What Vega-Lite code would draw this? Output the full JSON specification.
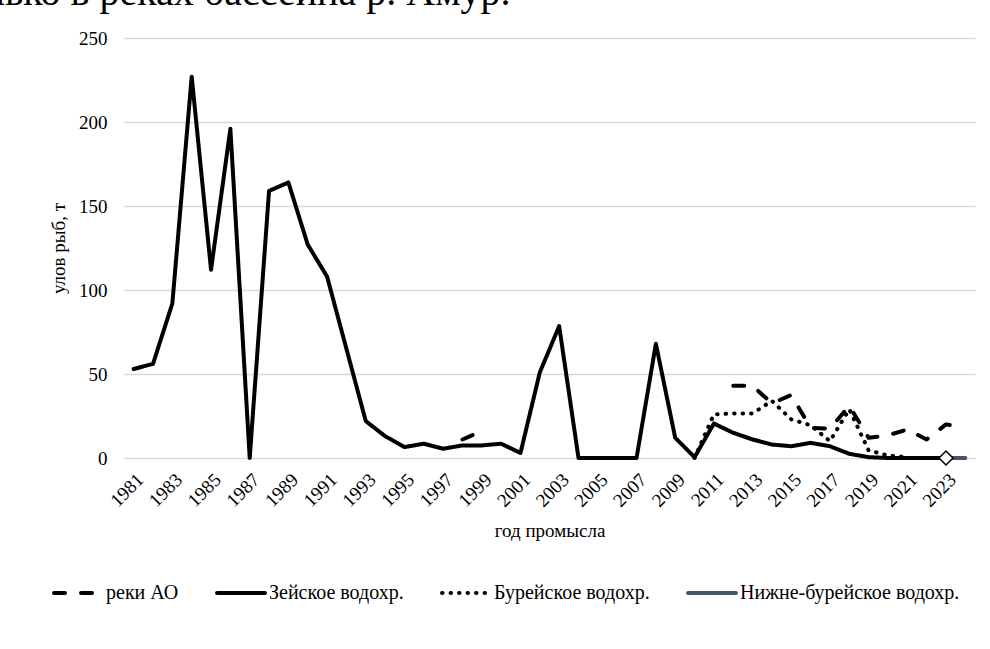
{
  "$schema": "https://vega.github.io/schema/vega-lite/v6.json",
  "width": 851,
  "height": 420,
  "autosize": {"type": "none"},
  "padding": {"left": 124, "top": 38, "right": 15, "bottom": 191},
  "background": "white",
  "title": {
    "text": "лько в реках бассейна р. Амур.",
    "anchor": "start",
    "frame": "group",
    "orient": "top",
    "font": "Liberation Serif, Times New Roman, DejaVu Serif, serif",
    "fontSize": 40,
    "fontWeight": "normal",
    "color": "#000000",
    "baseline": "alphabetic",
    "offset": 10,
    "dx": -139,
    "dy": 26
  },
  "config": {
    "font": "Liberation Serif, Times New Roman, DejaVu Serif, serif",
    "view": {"stroke": null},
    "axis": {
      "labelFont": "Liberation Serif, Times New Roman, DejaVu Serif, serif",
      "labelFontSize": 19,
      "labelColor": "#000000",
      "titleFont": "Liberation Serif, Times New Roman, DejaVu Serif, serif",
      "titleFontSize": 19,
      "titleFontWeight": "normal",
      "titleColor": "#000000",
      "gridColor": "#d9d9d9",
      "gridWidth": 1.3,
      "ticks": false,
      "tickSize": 0,
      "domain": false
    },
    "legend": {
      "labelFont": "Liberation Serif, Times New Roman, DejaVu Serif, serif",
      "labelFontSize": 20,
      "labelColor": "#000000",
      "labelLimit": 400
    }
  },
  "data": {
    "values": [
      {"year": 1981, "series": "Зейское водохр.", "value": 53},
      {"year": 1982, "series": "Зейское водохр.", "value": 56},
      {"year": 1983, "series": "Зейское водохр.", "value": 92},
      {"year": 1984, "series": "Зейское водохр.", "value": 227},
      {"year": 1985, "series": "Зейское водохр.", "value": 112},
      {"year": 1986, "series": "Зейское водохр.", "value": 196},
      {"year": 1987, "series": "Зейское водохр.", "value": 0},
      {"year": 1988, "series": "Зейское водохр.", "value": 159},
      {"year": 1989, "series": "Зейское водохр.", "value": 164},
      {"year": 1990, "series": "Зейское водохр.", "value": 127},
      {"year": 1991, "series": "Зейское водохр.", "value": 108},
      {"year": 1992, "series": "Зейское водохр.", "value": 65},
      {"year": 1993, "series": "Зейское водохр.", "value": 22},
      {"year": 1994, "series": "Зейское водохр.", "value": 13},
      {"year": 1995, "series": "Зейское водохр.", "value": 6.5},
      {"year": 1996, "series": "Зейское водохр.", "value": 8.5},
      {"year": 1997, "series": "Зейское водохр.", "value": 5.5},
      {"year": 1998, "series": "Зейское водохр.", "value": 7.5},
      {"year": 1999, "series": "Зейское водохр.", "value": 7.5},
      {"year": 2000, "series": "Зейское водохр.", "value": 8.5},
      {"year": 2001, "series": "Зейское водохр.", "value": 3},
      {"year": 2002, "series": "Зейское водохр.", "value": 51},
      {"year": 2003, "series": "Зейское водохр.", "value": 78.5},
      {"year": 2004, "series": "Зейское водохр.", "value": 0},
      {"year": 2005, "series": "Зейское водохр.", "value": 0},
      {"year": 2006, "series": "Зейское водохр.", "value": 0},
      {"year": 2007, "series": "Зейское водохр.", "value": 0},
      {"year": 2008, "series": "Зейское водохр.", "value": 68},
      {"year": 2009, "series": "Зейское водохр.", "value": 12},
      {"year": 2010, "series": "Зейское водохр.", "value": 0.5},
      {"year": 2011, "series": "Зейское водохр.", "value": 20.5},
      {"year": 2012, "series": "Зейское водохр.", "value": 15},
      {"year": 2013, "series": "Зейское водохр.", "value": 11},
      {"year": 2014, "series": "Зейское водохр.", "value": 8},
      {"year": 2015, "series": "Зейское водохр.", "value": 7},
      {"year": 2016, "series": "Зейское водохр.", "value": 9},
      {"year": 2017, "series": "Зейское водохр.", "value": 7},
      {"year": 2018, "series": "Зейское водохр.", "value": 2.5},
      {"year": 2019, "series": "Зейское водохр.", "value": 0.5},
      {"year": 2020, "series": "Зейское водохр.", "value": 0},
      {"year": 2021, "series": "Зейское водохр.", "value": 0},
      {"year": 2022, "series": "Зейское водохр.", "value": 0},
      {"year": 2023, "series": "Зейское водохр.", "value": 0},
      {"year": 1998, "series": "реки АО", "value": 11},
      {"year": 1999, "series": "реки АО", "value": 16},
      {"year": 2000, "series": "реки АО", "value": null},
      {"year": 2011, "series": "реки АО", "value": null},
      {"year": 2012, "series": "реки АО", "value": 43},
      {"year": 2013, "series": "реки АО", "value": 43},
      {"year": 2014, "series": "реки АО", "value": 32.5},
      {"year": 2015, "series": "реки АО", "value": 37.5},
      {"year": 2016, "series": "реки АО", "value": 18},
      {"year": 2017, "series": "реки АО", "value": 17.5},
      {"year": 2018, "series": "реки АО", "value": 31},
      {"year": 2019, "series": "реки АО", "value": 12},
      {"year": 2020, "series": "реки АО", "value": 13.5},
      {"year": 2021, "series": "реки АО", "value": 17},
      {"year": 2022, "series": "реки АО", "value": 11},
      {"year": 2023, "series": "реки АО", "value": 20},
      {"year": 2024, "series": "реки АО", "value": 18},
      {"year": 2010, "series": "Бурейское водохр.", "value": 0},
      {"year": 2011, "series": "Бурейское водохр.", "value": 26},
      {"year": 2012, "series": "Бурейское водохр.", "value": 26.5},
      {"year": 2013, "series": "Бурейское водохр.", "value": 26.5},
      {"year": 2014, "series": "Бурейское водохр.", "value": 34},
      {"year": 2015, "series": "Бурейское водохр.", "value": 23},
      {"year": 2016, "series": "Бурейское водохр.", "value": 19.5},
      {"year": 2017, "series": "Бурейское водохр.", "value": 10},
      {"year": 2018, "series": "Бурейское водохр.", "value": 29},
      {"year": 2019, "series": "Бурейское водохр.", "value": 4.5},
      {"year": 2020, "series": "Бурейское водохр.", "value": 1.5},
      {"year": 2021, "series": "Бурейское водохр.", "value": 0.5},
      {"year": 2023, "series": "Нижне-бурейское водохр.", "value": 0},
      {"year": 2024, "series": "Нижне-бурейское водохр.", "value": 0}
    ]
  },
  "layer": [
    {
      "mark": {"type": "line", "strokeCap": "round", "strokeJoin": "round", "invalid": "break-paths-filter-domains"},
      "encoding": {
        "x": {
          "field": "year",
          "type": "ordinal",
          "axis": {
            "values": [1981, 1983, 1985, 1987, 1989, 1991, 1993, 1995, 1997, 1999, 2001, 2003, 2005, 2007, 2009, 2011, 2013, 2015, 2017, 2019, 2021, 2023],
            "labelAngle": -45,
            "labelPadding": 12,
            "title": "год промысла",
            "titlePadding": 11
          }
        },
        "y": {
          "field": "value",
          "type": "quantitative",
          "scale": {"domain": [0, 250], "nice": false},
          "axis": {
            "values": [0, 50, 100, 150, 200, 250],
            "title": "улов рыб, т",
            "labelPadding": 17,
            "titlePadding": 10
          }
        },
        "color": {
          "field": "series",
          "type": "nominal",
          "scale": {
            "domain": ["реки АО", "Зейское водохр.", "Бурейское водохр.", "Нижне-бурейское водохр."],
            "range": ["#000000", "#000000", "#000000", "#44546a"]
          },
          "legend": {
            "title": null,
            "orient": "none",
            "direction": "horizontal",
            "legendX": -72,
            "legendY": 529,
            "symbolType": "stroke",
            "symbolSize": 2300,
            "columnPadding": 30,
            "labelOffset": 2,
            "padding": 0,
            "encode": {
              "symbols": {"update": {"strokeCap": {"value": "round"}}}
            }
          }
        },
        "strokeDash": {
          "field": "series",
          "type": "nominal",
          "scale": {
            "domain": ["реки АО", "Зейское водохр.", "Бурейское водохр.", "Нижне-бурейское водохр."],
            "range": [[11, 16], [1, 0], [0.5, 8], [1, 0]]
          },
          "legend": null
        },
        "strokeWidth": {
          "field": "series",
          "type": "nominal",
          "scale": {
            "domain": ["реки АО", "Зейское водохр.", "Бурейское водохр.", "Нижне-бурейское водохр."],
            "range": [4, 4, 4, 2.5]
          },
          "legend": null
        }
      }
    },
    {
      "transform": [{"filter": "datum.series == 'Нижне-бурейское водохр.' && datum.year == 2023"}],
      "mark": {"type": "point", "shape": "diamond", "filled": true, "fill": "#ffffff", "stroke": "#000000", "strokeWidth": 1.5, "size": 196, "opacity": 1},
      "encoding": {
        "x": {"field": "year", "type": "ordinal"},
        "y": {"field": "value", "type": "quantitative"}
      }
    }
  ]
}
